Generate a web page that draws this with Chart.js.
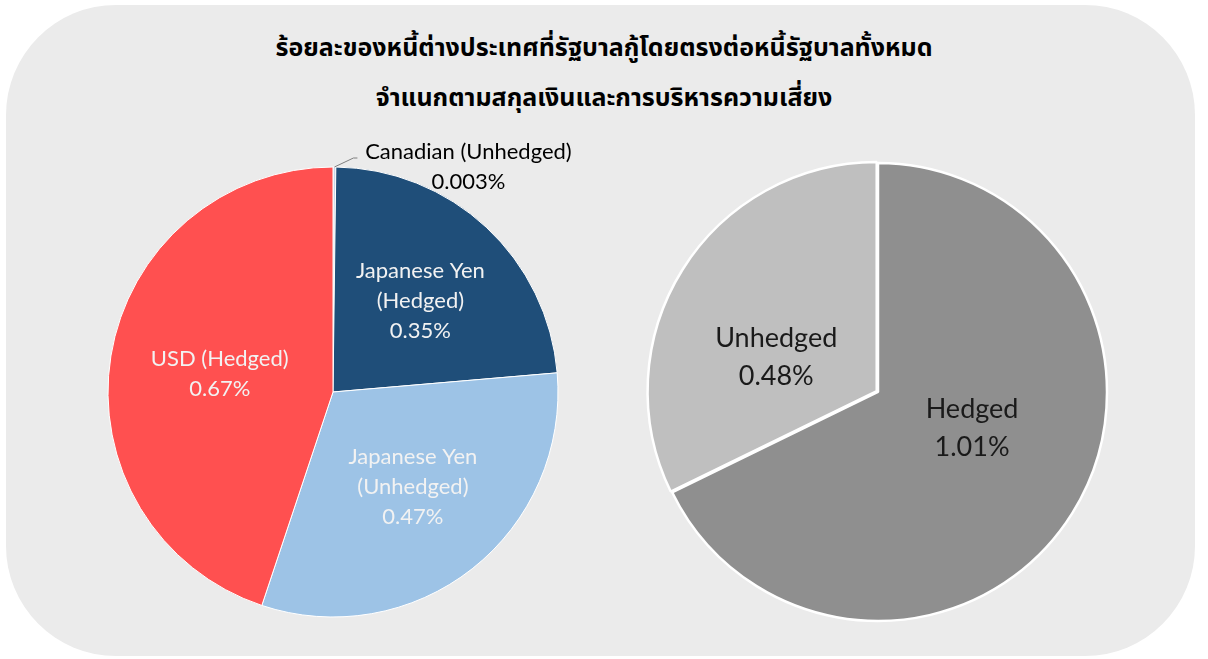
<!DOCTYPE html>
<html>
<head>
<meta charset="utf-8">
<script src="https://cdn.jsdelivr.net/npm/chart.js@4"></script>
<style>
  html, body { margin: 0; padding: 0; background: #ffffff; width: 1208px; height: 659px; overflow: hidden; }
  #panel { position: absolute; left: 6px; top: 5px; width: 1189px; height: 651px; border-radius: 110px; background: #ebebeb; }
  #title { position: absolute; left: 0; top: 23px; width: 1208px; text-align: center;
           font-family: "Noto Sans Thai", "Noto Sans Thai Looped", "Loma", "Garuda", "Tahoma", "Noto Sans", sans-serif;
           font-weight: bold; font-size: 25px; line-height: 50px; color: #000; }
  #left { position: absolute; left: 0; top: 130px; }
  #right { position: absolute; left: 578px; top: 130px; }
</style>
</head>
<body>
<div id="panel"></div>
<div id="title">ร้อยละของหนี้ต่างประเทศที่รัฐบาลกู้โดยตรงต่อหนี้รัฐบาลทั้งหมด<br>จำแนกตามสกุลเงินและการบริหารความเสี่ยง</div>
<canvas id="left" width="666" height="524"></canvas>
<canvas id="right" width="600" height="524"></canvas>
<script>
// ---- data ----
const leftCategories = [["Canadian (Unhedged)"], ["Japanese Yen", "(Hedged)"], ["Japanese Yen", "(Unhedged)"], ["USD (Hedged)"]];
const leftValues = [0.003, 0.35, 0.47, 0.67];
const leftValueLabels = ["0.003%", "0.35%", "0.47%", "0.67%"];
const rightCategories = [["Hedged"], ["Unhedged"]];
const rightValues = [1.01, 0.48];
const rightValueLabels = ["1.01%", "0.48%"];

const labelFont = '"Lato", "Open Sans", sans-serif';

// plugin: draws slice labels at a fraction of the radius along the (adjusted) mid angle
const sliceLabels = {
  id: 'sliceLabels',
  afterDatasetsDraw(chart, args, opts) {
    const ctx = chart.ctx;
    const meta = chart.getDatasetMeta(0);
    meta.data.forEach((arc, i) => {
      const cfg = opts.items[i];
      if (!cfg) return;
      const p = arc.getProps(['x', 'y', 'startAngle', 'endAngle', 'outerRadius'], true);
      const mid = (p.startAngle + p.endAngle) / 2 + (cfg.angleShift || 0) * Math.PI / 180;
      const lines = opts.categories[i].concat([opts.values[i]]);
      ctx.save();
      ctx.font = opts.fontSize + 'px ' + labelFont;
      ctx.fillStyle = cfg.color;
      ctx.textAlign = 'center';
      ctx.textBaseline = 'middle';
      const lh = opts.lineHeight;
      if (cfg.outside) {
        const ex = p.x + Math.cos(mid) * p.outerRadius;
        const ey = p.y + Math.sin(mid) * p.outerRadius;
        const tx = ex + cfg.dx, ty = ey + cfg.dy;
        ctx.strokeStyle = '#7f7f7f';
        ctx.lineWidth = 1;
        ctx.beginPath();
        ctx.moveTo(ex, ey);
        ctx.lineTo(ex + 19, ey - 9);
        ctx.lineTo(ex + 23, ey - 9);
        ctx.stroke();
        lines.forEach((t, k) => ctx.fillText(t, tx, ty + (k - (lines.length - 1) / 2) * lh));
      } else {
        const r = p.outerRadius * cfg.r;
        const cx = p.x + Math.cos(mid) * r;
        const cy = p.y + Math.sin(mid) * r;
        lines.forEach((t, k) => ctx.fillText(t, cx, cy + (k - (lines.length - 1) / 2) * lh));
      }
      ctx.restore();
    });
  }
};

new Chart(document.getElementById('left'), {
  type: 'pie',
  data: {
    labels: leftCategories.map(c => c.join(' ')),
    datasets: [{
      data: leftValues,
      backgroundColor: ['#c9d6e8', '#1f4e79', '#9dc3e6', '#ff5050'],
      borderColor: '#ffffff',
      borderWidth: 1
    }]
  },
  options: {
    responsive: false,
    animation: false,
    radius: 225,
    layout: { padding: 0 },
    plugins: {
      legend: { display: false },
      tooltip: { enabled: false },
      sliceLabels: {
        categories: leftCategories,
        values: leftValueLabels,
        fontSize: 22,
        lineHeight: 30,
        items: [
          { outside: true, color: '#000000', dx: 134, dy: 0 },
          { r: 0.56, color: '#f2f2f2', angleShift: 1 },
          { r: 0.55, color: '#f2f2f2', angleShift: -2 },
          { r: 0.51, color: '#f2f2f2', angleShift: 0 }
        ]
      }
    }
  },
  plugins: [sliceLabels]
});

new Chart(document.getElementById('right'), {
  type: 'pie',
  data: {
    labels: rightCategories.map(c => c.join(' ')),
    datasets: [{
      data: rightValues,
      backgroundColor: ['#8f8f8f', '#bfbfbf'],
      borderColor: '#ffffff',
      borderWidth: 2.5,
      offset: [0, 6]
    }]
  },
  options: {
    responsive: false,
    animation: false,
    radius: 229,
    layout: { padding: 0 },
    plugins: {
      legend: { display: false },
      tooltip: { enabled: false },
      sliceLabels: {
        categories: rightCategories,
        values: rightValueLabels,
        fontSize: 27,
        lineHeight: 38,
        items: [
          { r: 0.44, color: '#1a1a1a', angleShift: -11 },
          { r: 0.47, color: '#1a1a1a', angleShift: -13 }
        ]
      }
    }
  },
  plugins: [sliceLabels]
});
</script>
</body>
</html>
